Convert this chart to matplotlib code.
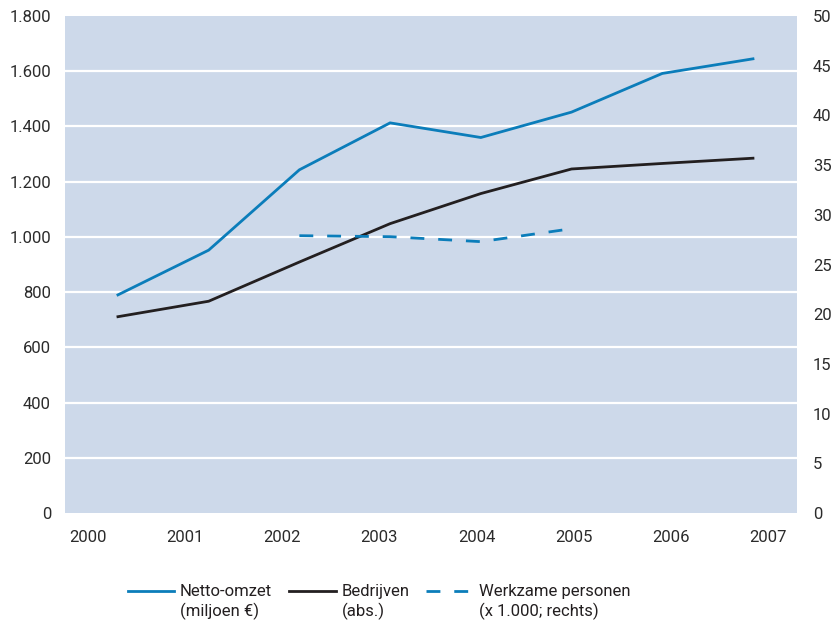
import matplotlib
matplotlib.use("Agg")
import matplotlib.pyplot as plt
import numpy as np
from matplotlib.ticker import FuncFormatter

plt.rcParams["font.family"] = ["Roboto", "DejaVu Sans"]

jaren = [2000, 2001, 2002, 2003, 2004, 2005, 2006, 2007]
netto_omzet = [790, 952, 1243, 1413, 1360, 1452, 1592, 1645]      # miljoen euro (links)
bedrijven = [711, 767, 909, 1048, 1157, 1246, 1266, 1285]         # abs. (links)
werkzame_jaren = [2002, 2003, 2004, 2005]
werkzame_personen = [27.9, 27.8, 27.3, 28.6]                        # x 1.000 (rechts)

links_ticks = [0, 200, 400, 600, 800, 1000, 1200, 1400, 1600, 1800]
rechts_ticks = [0, 5, 10, 15, 20, 25, 30, 35, 40, 45, 50]

blauw = "#0b7dba"
zwart = "#231f20"
tekst = "#2b2b2b"
achtergrond = "#cdd9ea"

fig = plt.figure(figsize=(8.34, 6.26), dpi=100)
ax = fig.add_axes([0.0779, 0.1805, 0.8777, 0.7939])
ax.set_facecolor(achtergrond)
for s in ax.spines.values():
    s.set_visible(False)

ax.set_xlim(1999.416, 2007.485)
ax.set_ylim(0, 1800)
ax.set_yticks(links_ticks)
ax.yaxis.set_major_formatter(FuncFormatter(lambda v, p: f"{v:,.0f}".replace(",", ".")))
for y in links_ticks[1:-1]:
    ax.axhline(y, color="white", linewidth=1.6, zorder=1)

# jaartallen staan iets verschoven t.o.v. de datapunten (zoals in het origineel)
ax.set_xticks(np.linspace(1999.669, 2007.166, 8))
ax.set_xticklabels([str(j) for j in jaren])
ax.tick_params(axis="both", length=0, labelsize=12, labelcolor=tekst)
ax.tick_params(axis="y", pad=10)
ax.tick_params(axis="x", pad=12)

l1, = ax.plot(jaren, netto_omzet, color=blauw, linewidth=2.0, zorder=3,
              solid_joinstyle="miter")
l2, = ax.plot(jaren, bedrijven, color=zwart, linewidth=2.0, zorder=3,
              solid_joinstyle="miter")

ax2 = ax.twinx()
for s in ax2.spines.values():
    s.set_visible(False)
ax2.set_ylim(0, 50)
ax2.set_yticks(rechts_ticks)
ax2.tick_params(axis="y", length=0, labelsize=12, labelcolor=tekst, pad=11.5)
l3, = ax2.plot(werkzame_jaren, werkzame_personen, color=blauw, linewidth=2.0,
               linestyle=(0, (5, 5)), zorder=3)

leg = fig.legend([l1, l2, l3],
                 ["Netto-omzet\n(miljoen €)", "Bedrijven\n(abs.)",
                  "Werkzame personen\n(x 1.000; rechts)"],
                 loc="upper left", bbox_to_anchor=(0.153, 0.067), ncol=3,
                 frameon=False, handlelength=2.8, fontsize=12,
                 handletextpad=0.35, columnspacing=1.0, borderpad=0,
                 borderaxespad=0)
for t in leg.get_texts():
    t.set_color(zwart)
    t.set_linespacing(1.25)
for h in leg.get_lines():
    h.set_ydata(np.asarray(h.get_ydata()) + 8)

fig.savefig("out.png", dpi=100)
